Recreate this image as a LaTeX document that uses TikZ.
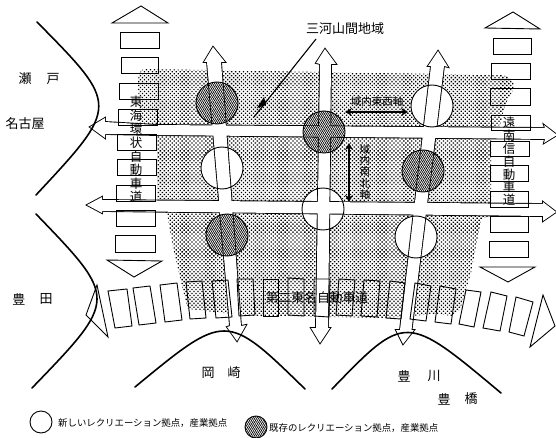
\documentclass[tikz,border=0pt]{standalone}
\usepackage{fontspec}
\newfontfamily\jp{Noto Sans CJK JP}
\usetikzlibrary{patterns.meta,arrows.meta}
\tikzset{
  stipple/.style={pattern={Dots[distance=2.8pt,angle=45,radius=0.95pt]},pattern color=black},
  hatch/.style={pattern={Lines[angle=60,distance=1.7pt,line width=0.75pt]},pattern color=black},
  exbox/.style={draw=black,line width=0.9pt,line join=miter},
  city/.style={draw=black,line width=1.6pt,line cap=round},
  lab/.style={inner sep=0pt,font=\jp\fontsize{13}{13}\selectfont},
  small/.style={inner sep=0pt,font=\jp\fontsize{9.4}{10}\selectfont},
  mini/.style={inner sep=0pt,font=\jp\fontsize{10.5}{11}\selectfont},
  roadstroke/.style={draw=black,line width=1.8pt,line join=miter},
  dimline/.style={draw=black,line width=1.1pt,{Stealth[length=7pt,width=8pt]}-{Stealth[length=7pt,width=8pt]}},
}
\def\roads{
  (90,127)--(105,118)--(105,122)--(157,125)--(545,128)--(544,125)--(557,135)--(544,143)--(545,139)--(157,135)--(105,134)--(105,138)--cycle
  (87,205)--(102,197)--(102,200)--(543,204)--(543,202)--(556,212)--(543,221)--(543,216)--(102,211)--(102,213)--cycle
  (213,47)--(225,62)--(221,62)--(241,326)--(246,325)--(237,341)--(227,327)--(230,326)--(207,62)--(204,62)--cycle
  (325,49)--(336,64)--(331,64)--(328,328)--(330,328)--(320,343)--(311,328)--(316,328)--(320,64)--(316,63)--cycle
  (438,51)--(448,67)--(444,66)--(411.5,330)--(414,330)--(403,344)--(396,330)--(400,330)--(431,66)--(428,66)--cycle
}
\newcommand\spotW[2]{%
  \begin{scope}
    \clip (#1,#2) circle[radius=21];
    \fill[white] (#1,#2) circle[radius=21];
    \path[roadstroke] \roads;
    \fill[white] \roads;
  \end{scope}
  \draw[line width=0.9pt] (#1,#2) circle[radius=21];
}
\newcommand\spotH[2]{%
  \begin{scope}
    \clip (#1,#2) circle[radius=21];
    \fill[white] (#1,#2) circle[radius=21];
    \fill[hatch] (#1,#2) circle[radius=21];
    \path[roadstroke] \roads;
    \fill[white] \roads;
    \fill[hatch] \roads;
  \end{scope}
  \draw[line width=0.9pt] (#1,#2) circle[radius=21];
}
\begin{document}
\begin{tikzpicture}[x=1pt,y=-1pt]
\useasboundingbox (0,0) rectangle (556,438);
% upland area
\fill[stipple] (138,85) .. controls (138,73) and (140,69) .. (146,69) -- (500,75) .. controls (510,76) and (514,80) .. (514,88)
  -- (505,105) -- (500,125) -- (491,128) -- (491,216) -- (484,218) -- (481,220) -- (471,273) -- (460,310) -- (452,316)
  -- (436,314) -- (385,318) -- (330,317) -- (250,316) -- (215,312) -- (188,309) -- (183,290) -- (173,247) -- (167,213)
  -- (157,211) -- (157,136) -- (140,125) -- cycle;
% roads
\path[roadstroke] \roads;
\fill[white] \roads;
% spots
\spotH{217}{103}
\spotW{222}{168}
\spotH{324}{132}
\spotW{432}{106}
\spotH{423}{171}
\spotW{323}{209}
\spotH{227}{235}
\spotW{416}{237}
% left expressway
\draw[exbox] (112,23)--(141,6)--(168,23)--cycle;
\draw[exbox] (120,32) rectangle (159,48);
\draw[exbox] (121,57) rectangle (158,73);
\draw[exbox] (119,83) rectangle (158,99);
\draw[exbox] (118,109) rectangle (157,125);
\draw[exbox] (117,134) rectangle (156,150);
\draw[exbox] (117,159) rectangle (156,175);
\draw[exbox] (116,185) rectangle (155,201);
\draw[exbox] (116,210) rectangle (155,226);
\draw[exbox] (115,235) rectangle (155,252);
\draw[exbox] (107,260)--(162,261)--(134,277)--cycle;
% right expressway
\draw[exbox] (485,28)--(513,12)--(540,29)--cycle;
\draw[exbox] (493,38) rectangle (531,54);
\draw[exbox] (491,63) rectangle (530,79);
\draw[exbox] (490,88) rectangle (530,105);
\draw[exbox] (491,115) rectangle (530,130);
\draw[exbox] (490,141) rectangle (529,156);
\draw[exbox] (490,165) rectangle (528,181);
\draw[exbox] (490,191) rectangle (528,207);
\draw[exbox] (490,216) rectangle (528,232);
\draw[exbox] (489,241) rectangle (528,257);
\draw[exbox] (480,267)--(535,267)--(508,282)--cycle;
% second Tomei expressway
\draw[exbox] (97,285)--(86,315)--(108,337)--cycle;
\draw[exbox] (108,291)--(127,289)--(132,326)--(115,328)--cycle;
\draw[exbox] (133,288)--(150,286)--(156,323)--(139,325)--cycle;
\draw[exbox] (160,285)--(177,283)--(182,320)--(165,322)--cycle;
\draw[exbox] (186,282)--(202,281)--(206,318)--(190,319)--cycle;
\draw[exbox] (212,281)--(228,280)--(232,317)--(216,318)--cycle;
\draw[exbox] (237,279)--(253,279)--(255,315)--(239,316)--cycle;
\draw[exbox] (263,279)--(278,279)--(278,316)--(263,316)--cycle;
\draw[exbox] (288,278)--(304,279)--(304,316)--(288,315)--cycle;
\draw[exbox] (314,279)--(330,279)--(329,317)--(314,316)--cycle;
\draw[exbox] (339,279)--(355,280)--(352,316)--(336,315)--cycle;
\draw[exbox] (364,280)--(380,281)--(377,317)--(361,316)--cycle;
\draw[exbox] (390,281)--(405,283)--(401,319)--(386,318)--cycle;
\draw[exbox] (415,283)--(431,286)--(426,321)--(410,319)--cycle;
\draw[exbox] (440,286)--(456,289)--(451,324)--(435,322)--cycle;
\draw[exbox] (466,290)--(481,292)--(474,327)--(459,324)--cycle;
\draw[exbox] (491,292)--(507,296)--(500,331)--(483,328)--cycle;
\draw[exbox] (516,297)--(533,302)--(524,336)--(509,332)--cycle;
\draw[exbox] (543,295)--(555,326)--(530,347)--cycle;
% city arcs
\draw[city] (37,22) .. controls (119.5,105.5) .. (36,195);
\draw[city] (36,214) .. controls (118,299) .. (32,388);
\draw[city] (135,387) .. controls (226,312) .. (305,389);
\draw[city] (332,389) .. controls (405.5,313) .. (501,393);
% labels
\node[lab] (seto1) at (25,79) {瀬};
\node[lab] (seto2) at (53,79) {戸};
\node[lab] (nagoya) at (25,124) {名古屋};
\node[lab] (toyota1) at (19,299) {豊};
\node[lab] (toyota2) at (46,299) {田};
\node[lab] (oka1) at (208,373) {岡};
\node[lab] (oka2) at (234,373) {崎};
\node[lab] (toyo1) at (404,376) {豊};
\node[lab] (toyo2) at (434,376) {川};
\node[lab] (hashi1) at (444,399) {豊};
\node[lab] (hashi2) at (471,399) {橋};
\node[lab] (sanga) at (345,29) {三河山間地域};
\node[inner sep=0pt,font=\jp\fontsize{12.8}{13}\selectfont] (tomei) at (317,298) {第二東名自動車道};
\node[inner sep=0pt,align=center,font=\jp\fontsize{12.5}{13.6}\selectfont] (tokai) at (136,149.5) {東\\海\\環\\状\\自\\動\\車\\道};
\node[inner sep=0pt,align=center,font=\jp\fontsize{12.5}{12.8}\selectfont] (ennan) at (509,161.5) {遠\\南\\信\\自\\動\\車\\道};
\node[mini] (ew) at (377,102) {域内東西軸};
\node[inner sep=0pt,align=center,font=\jp\fontsize{10.5}{11.2}\selectfont] (ns) at (365,172) {域\\内\\南\\北\\軸};
% axes
\coordinate (ewa) at (345,112); \coordinate (ewb) at (408,112);
\coordinate (nsa) at (349,143); \coordinate (nsb) at (349,202);
\draw[dimline] (ewa) -- (ewb);
\draw[dimline] (nsa) -- (nsb);
% leader
\coordinate (la) at (316,39); \coordinate (lb) at (254,117);
\draw[line width=1.1pt] (la) -- (lb);
\fill (264,97) -- (266,105) -- (257,108) -- cycle;
% legend
\draw[line width=0.9pt] (41,422) circle[radius=11];
\fill[white] (256,427) circle[radius=11];
\fill[hatch] (256,427) circle[radius=11];
\draw[line width=0.9pt] (256,427) circle[radius=11];
\node[small,anchor=west] (leg1) at (58,423) {新しいレクリエーション拠点，産業拠点};
\node[small,anchor=west] (leg2) at (269,428) {既存のレクリエーション拠点，産業拠点};
\end{tikzpicture}
\end{document}
